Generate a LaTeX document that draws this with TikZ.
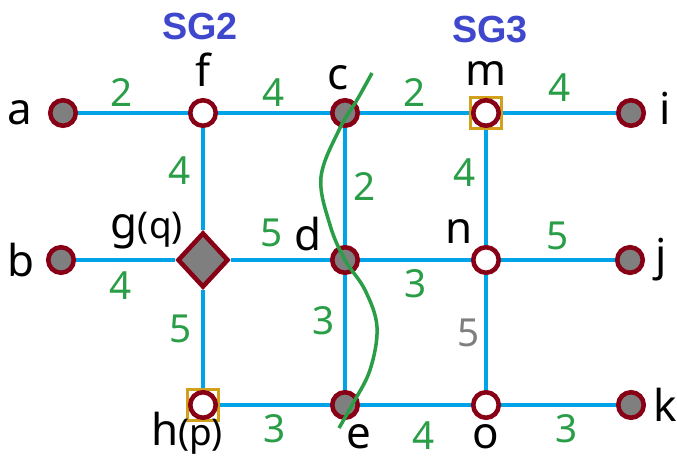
\documentclass[tikz,border=0pt]{standalone}
\usepackage{fontspec}
\setmainfont{Noto Sans}
\newfontfamily\headfont{Liberation Sans}
\usepackage{xcolor}
\usetikzlibrary{shapes.geometric, positioning}

\definecolor{edgeblue}{RGB}{0,162,232}
\definecolor{rimred}{RGB}{136,0,21}
\definecolor{midgray}{RGB}{127,127,127}
\definecolor{wtgreen}{RGB}{42,157,71}
\definecolor{sgblue}{RGB}{63,72,204}
\definecolor{boxgold}{RGB}{210,160,25}

\begin{document}
\begin{tikzpicture}[
  x=0.02cm, y=-0.02cm,
  vtx/.style={circle, draw=rimred, line width=2.6pt, minimum size=0.51cm, inner sep=0pt},
  full/.style={vtx, fill=midgray},
  hollow/.style={vtx, fill=white},
  gate/.style={rectangle, draw=boxgold, line width=1.6pt, fill=white, minimum size=0.62cm, inner sep=0pt},
  hub/.style={diamond, draw=rimred, fill=midgray, line width=2.6pt, minimum width=1.02cm, minimum height=1.1cm, inner sep=0pt},
  link/.style={draw=edgeblue, line width=1.9pt},
  wt/.style={text=wtgreen, inner sep=0pt, font=\fontsize{22}{22}\selectfont},
  lbl/.style={inner sep=0pt, font=\fontsize{25}{25}\selectfont},
  sg/.style={text=sgblue, inner sep=0pt, font=\headfont\fontsize{21.5}{21.5}\selectfont\bfseries},
  cut/.style={draw=wtgreen, line width=2pt}
]
  \useasboundingbox (0,0) rectangle (677,461);

  % subgraph titles
  \node [sg] (sg2) at (200,26) {SG2};
  \node [sg] (sg3) at (490,30) {SG3};

  % top row
  \node [full]   (a) at (63,113)  {};
  \node [hollow] (f) at (203,113) {};
  \node [full]   (c) at (345,113) {};
  \node [gate]   (mbox) at (486,113) {};
  \node [hollow] (m) at (486,113) {};
  \node [full]   (i) at (631,113) {};

  % middle row
  \node [full]   (b) at (61,260)  {};
  \node [hub]    (g) at (203,260) {};
  \node [full]   (d) at (345,260) {};
  \node [hollow] (n) at (486,260) {};
  \node [full]   (j) at (630,260) {};

  % bottom row
  \node [gate]   (hbox) at (203,405) {};
  \node [hollow] (h) at (203,405) {};
  \node [full]   (e) at (345,405) {};
  \node [hollow] (o) at (486,405) {};
  \node [full]   (k) at (631,405) {};

  % vertex names
  \node [lbl, left=0.3cm of a]  (la) {a};
  \node [lbl, left=0.22cm of b] (lb) {b};
  \node [lbl, right=0.26cm of i, yshift=0.1cm] (li) {i};
  \node [lbl, right=0.2cm of j] (lj) {j};
  \node [lbl, right=0.14cm of k] (lk) {k};
  \node [lbl, above=0.22cm of f] (lf) {f};
  \node [lbl, above=0.16cm of c, xshift=-0.14cm] (lc) {c};
  \node [lbl, above=0.2cm of mbox] (lm) {m};
  \node [lbl, above left=0.12cm and 0.04cm of n] (ln) {n};
  \node [lbl, above left=-0.04cm and 0.26cm of d] (ld) {d};
  \node [lbl, above left=-0.08cm and 0.12cm of g] (lg) {g{\fontsize{21}{21}\selectfont(q)}};
  \node [lbl, below=-0.2cm of hbox, xshift=-0.32cm] (lh) {h{\fontsize{21}{21}\selectfont(p)}};
  \node [lbl, below=0.08cm of e, xshift=0.28cm] (le) {e};
  \node [lbl, below=0.08cm of o] (lo) {o};

  % weighted links
  \draw [link] (a) -- node[wt, above=0.1cm, pos=0.4]{2} (f);
  \draw [link] (f) -- node[wt, above=0.1cm]{4} (c);
  \draw [link] (c) -- node[wt, above=0.1cm]{2} (mbox);
  \draw [link] (mbox) -- node[wt, above=0.2cm]{4} (i);
  \draw [link] (f) -- node[wt, left=0.22cm, pos=0.42]{4} (g);
  \draw [link] (c) -- node[wt, right=0.14cm]{2} (d);
  \draw [link] (mbox) -- node[wt, left=0.18cm, pos=0.37]{4} (n);
  \draw [link] (b) -- node[wt, below=0.2cm, pos=0.45]{4} (g);
  \draw [link] (g) -- node[wt, above=0.22cm, pos=0.41]{5} (d);
  \draw [link] (d) -- node[wt, below=0.16cm]{3} (n);
  \draw [link] (n) -- node[wt, above=0.16cm]{5} (j);
  \draw [link] (g) -- node[wt, left=0.2cm, pos=0.4]{5} (hbox);
  \draw [link] (d) -- node[wt, left=0.18cm, pos=0.4]{3} (e);
  \draw [link] (n) -- node[wt, text=midgray, left=0.1cm]{5} (o);
  \draw [link] (hbox) -- node[wt, below=0.16cm]{3} (e);
  \draw [link] (e) -- node[wt, below=0.3cm, pos=0.57]{4} (o);
  \draw [link] (o) -- node[wt, below=0.16cm, pos=0.57]{3} (k);

  % cut line
  \coordinate (cuttop) at (372,73);
  \coordinate (cutbot) at (339,428);
  \draw [cut] plot [smooth, tension=0.6] coordinates {(cuttop) (357,100) (340,128) (321,177) (330,225) (345,260) (365,290) (377,327) (370,370) (352,405) (cutbot)};
\end{tikzpicture}
\end{document}
